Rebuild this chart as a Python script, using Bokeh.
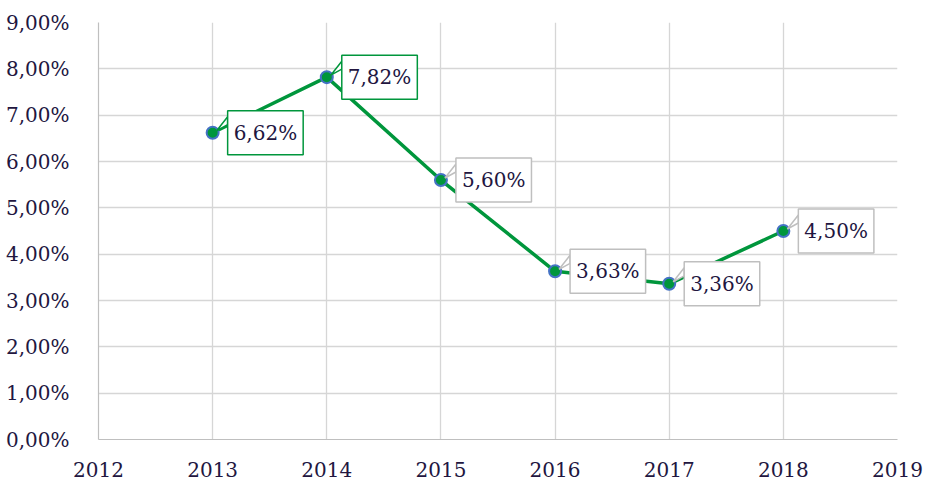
from bokeh.plotting import figure
from bokeh.models import Label, FixedTicker, Range1d
from bokeh.embed import file_html
from bokeh.resources import INLINE

years = [2013, 2014, 2015, 2016, 2017, 2018]
values = [6.62, 7.82, 5.60, 3.63, 3.36, 4.50]
value_labels = ["6,62%", "7,82%", "5,60%", "3,63%", "3,36%", "4,50%"]
label_border = ["#00963c", "#00963c", "#bfbfbf", "#bfbfbf", "#bfbfbf", "#bfbfbf"]
x_ticks = [2012, 2013, 2014, 2015, 2016, 2017, 2018, 2019]
y_ticks = [0, 1, 2, 3, 4, 5, 6, 7, 8, 9]
y_tick_labels = ["0,00%", "1,00%", "2,00%", "3,00%", "4,00%", "5,00%",
                 "6,00%", "7,00%", "8,00%", "9,00%"]

FONT = "DejaVu Serif"
TXT = "#22163f"
FW, FH = 799, 417
BL, BR, BT, BB = 98, 30, 22, 43

p = figure(frame_width=FW, frame_height=FH, output_backend="svg", toolbar_location=None,
           x_range=Range1d(x_ticks[0], x_ticks[-1]), y_range=Range1d(y_ticks[0], y_ticks[-1]),
           min_border_left=BL, min_border_right=BR, min_border_top=BT, min_border_bottom=BB)
p.outline_line_color = None
p.background_fill_color = "white"

px_x = (x_ticks[-1] - x_ticks[0]) / FW
px_y = (y_ticks[-1] - y_ticks[0]) / FH

for ax in (p.xaxis, p.yaxis):
    ax.axis_line_color = "#bfbfbf"
    ax.axis_line_width = 1.2
    ax.major_tick_line_color = None
    ax.minor_tick_line_color = None
    ax.major_label_text_font = FONT
    ax.major_label_text_font_size = "20px"
    ax.major_label_text_color = TXT

p.xaxis.ticker = FixedTicker(ticks=x_ticks)
p.xaxis.major_label_standoff = 16
p.yaxis.ticker = FixedTicker(ticks=y_ticks)
p.yaxis.major_label_overrides = {t: l for t, l in zip(y_ticks, y_tick_labels)}
p.yaxis.major_label_standoff = 23

p.xgrid.ticker = FixedTicker(ticks=x_ticks)
p.ygrid.ticker = FixedTicker(ticks=y_ticks)
for g in (p.xgrid, p.ygrid):
    g.grid_line_color = "#d6d6d6"
    g.grid_line_width = 1.3

p.line(years, values, line_color="#00963c", line_width=3.5)
p.scatter(years, values, size=12, fill_color="#00963c", line_color="#4472c4", line_width=2)

# callout tails
for x, y, c in zip(years, values, label_border):
    xs = [x + 4 * px_x, x + 15 * px_x, x + 15 * px_x]
    ys = [y + 2 * px_y, y + 16 * px_y, y + 8 * px_y]
    p.patch(xs, ys, fill_color="white", line_color=c, line_width=1.5)

for x, y, t, c in zip(years, values, value_labels, label_border):
    p.add_layout(Label(x=x, y=y, text=t, x_offset=15, y_offset=0,
                       text_align="left", text_baseline="middle",
                       text_font=FONT, text_font_size="20px", text_color=TXT,
                       background_fill_color="white", border_line_color=c,
                       border_line_width=1.5, padding=(6, 10)))

open("out.html", "w").write(file_html(p, INLINE))
